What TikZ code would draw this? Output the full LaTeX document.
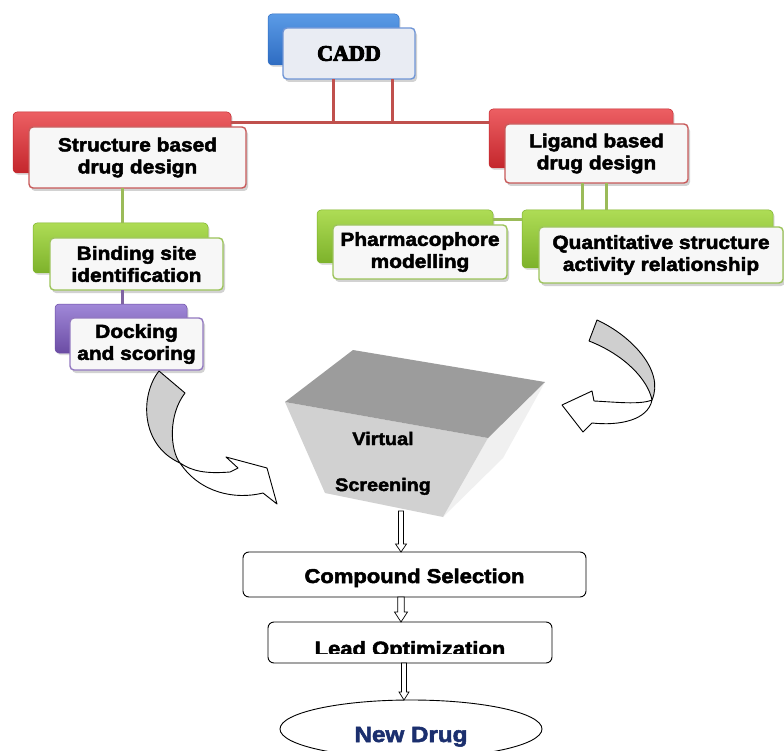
\documentclass[tikz,border=0pt]{standalone}
\usepackage{fontspec}
\newfontfamily\lab{Liberation Sans}[FakeStretch=1.1, BoldFeatures={FakeBold=2.5}]
\newfontfamily\cad{Liberation Serif}[BoldFeatures={FakeBold=4.5}]
\usetikzlibrary{shadows,shapes.geometric,calc}
\definecolor{bluetop}{HTML}{5B9BE6}\definecolor{bluebot}{HTML}{2E6CC2}\definecolor{blueb}{HTML}{6F95D6}
\definecolor{redtop}{HTML}{EC5F63}\definecolor{redbot}{HTML}{C4262C}\definecolor{redb}{HTML}{C85A5A}
\definecolor{greentop}{HTML}{AEDC55}\definecolor{greenbot}{HTML}{7DB22B}\definecolor{greenb}{HTML}{9CC45A}
\definecolor{purptop}{HTML}{A088D8}\definecolor{purpbot}{HTML}{6B4CA4}\definecolor{purpb}{HTML}{9278C0}
\definecolor{redline}{HTML}{C0504D}\definecolor{greenline}{HTML}{9BBB59}\definecolor{purpline}{HTML}{8064A2}
\definecolor{navy}{HTML}{1B2F6E}
\definecolor{caddfill}{HTML}{E9ECF3}
\tikzset{
  backbox/.style n args={3}{rounded corners=4pt, top color=#1, bottom color=#2, draw=#3,
    line width=0.5pt, inner sep=0pt, outer sep=0pt,
    drop shadow={opacity=0.25, shadow xshift=1.5pt, shadow yshift=-2pt}},
  frontbox/.style={rounded corners=4pt, fill=white!94!gray, draw=#1, line width=1.4pt,
    inner sep=0pt, outer sep=0pt, align=center,
    font=\lab\bfseries\fontsize{19}{22}\selectfont,
    drop shadow={opacity=0.35, shadow xshift=2pt, shadow yshift=-3pt}},
  conn/.style={line width=3pt, draw=#1},
  flowbox/.style={rounded corners=6pt, draw=black, line width=0.9pt, fill=white,
    inner sep=0pt, outer sep=0pt},
  hollow/.style={draw=black, fill=white, line width=0.7pt},
  curvy/.style={draw=black, line width=0.9pt, line join=round},
}
\newcommand\blockarrow[5]{%
  \draw[hollow] let \p1=(#1), \p2=(#2) in
   (\x1-#3,\y1) -- (\x1-#3,\y2+#5) -- (\x1-#4,\y2+#5) -- (\x1,\y2)
   -- (\x1+#4,\y2+#5) -- (\x1+#3,\y2+#5) -- (\x1+#3,\y1) -- cycle;}
\begin{document}
\begin{tikzpicture}[x=1pt,y=-1pt]
\fill[white] (0,0) rectangle (784,751);
\useasboundingbox (0,0) rectangle (784,751);

% ---------- back boxes ----------
\node[backbox={bluetop}{bluebot}{bluebot}, minimum width=131pt, minimum height=51pt] (cbb) at (333.5,39.5) {};
\node[backbox={redtop}{redbot}{redbot}, minimum width=218pt, minimum height=61pt] (sbb) at (122,142.5) {};
\node[backbox={redtop}{redbot}{redbot}, minimum width=184pt, minimum height=59pt] (lbb) at (581,138.5) {};
\node[backbox={greentop}{greenbot}{greenbot}, minimum width=175pt, minimum height=50pt] (bbb) at (120.5,248) {};
\node[backbox={purptop}{purpbot}{purpbot}, minimum width=132pt, minimum height=49pt] (dbb) at (121,328.5) {};
\node[backbox={greentop}{greenbot}{greenbot}, minimum width=176pt, minimum height=53pt] (pbb) at (405,236.5) {};
\node[backbox={greentop}{greenbot}{greenbot}, minimum width=251pt, minimum height=58pt] (qbb) at (647.5,239) {};

% ---------- connectors (tree) ----------
\coordinate (hl) at ([yshift=-11pt]sbb.north east);
\coordinate (hr) at ([yshift=-14pt]lbb.north west);
\draw[conn=redline] (hl) -- (hr);
\draw[conn=greenline] ([yshift=-10pt]pbb.north east) -- ([yshift=-10pt]qbb.north west);

% ---------- front boxes ----------
\node[frontbox=blueb, fill=caddfill, minimum width=132pt, minimum height=51pt,
      font=\cad\bfseries\fontsize{22}{26}\selectfont] (cf) at (349,53.5) {CADD};
\node[frontbox=redb, minimum width=217pt, minimum height=61pt] (sf) at (137.5,157.5) {Structure based\\drug design};
\node[frontbox=redb, minimum width=183pt, minimum height=59pt] (lf) at (596.5,153.5) {Ligand based\\drug design};
\node[frontbox=greenb, minimum width=173pt, minimum height=52pt] (bf) at (136.5,264) {Binding site\\identification};
\node[frontbox=purpb, minimum width=133pt, minimum height=52pt] (df) at (136.5,344) {Docking\\and scoring};
\node[frontbox=greenb, minimum width=174pt, minimum height=54pt] (pf) at (420,252) {Pharmacophore\\modelling};
\node[frontbox=greenb, minimum width=244pt, minimum height=56pt] (qf) at (661,255) {Quantitative structure\\activity relationship};

% ---------- vertical connectors ----------
\draw[conn=redline] ([xshift=-16pt]cf.south) -- ([xshift=-16pt]cf.south |- hl);
\draw[conn=redline] ([xshift=43pt]cf.south) -- ([xshift=43pt]cf.south |- hl);
\draw[conn=greenline] ([xshift=-15.5pt]sf.south) -- ([xshift=-15.5pt]sf.south |- bbb.north);
\draw[conn=purpline] ([xshift=-14.5pt]bf.south) -- ([xshift=-14.5pt]bf.south |- dbb.north);
\draw[conn=greenline] ([xshift=-14.5pt]lf.south) -- ([xshift=-14.5pt]lf.south |- qbb.north);
\draw[conn=greenline] ([xshift=9.5pt]lf.south) -- ([xshift=9.5pt]lf.south |- qbb.north);

% ---------- funnel ----------
\coordinate (fA) at (285,402);
\coordinate (fB) at (353,350);
\coordinate (fC) at (545,382);
\coordinate (fD) at (488,438);
\coordinate (fE) at (443,517);
\coordinate (fF) at (325,493);
\coordinate (fG) at (503,458);
\fill[gray!12] (fD) -- (fC) -- (fG) -- (fE) -- cycle;
\fill[gray!36] (fA) -- (fD) -- (fE) -- (fF) -- cycle;
\fill[gray!78] (fA) -- (fB) -- (fC) -- (fD) -- cycle;
\node[anchor=base, font=\lab\bfseries\fontsize{18}{22}\selectfont] (vt) at (383,445) {Virtual};
\node[anchor=base, font=\lab\bfseries\fontsize{18}{22}\selectfont] (sc) at (383,491) {Screening};
\coordinate (vsout) at (401,511);

% ---------- curved arrows ----------
\draw[curvy, fill=gray!38] (159,371) .. controls (140,395) and (140,445) .. (180,463)
   .. controls (170,450) and (168,415) .. (185,393) -- cycle;
\draw[curvy, fill=white] (180,463) .. controls (192,471) and (205,474) .. (230,472)
   -- (238,468) -- (226,457) -- (267,468) -- (277,504) -- (263,493)
   .. controls (235,500) and (200,493) .. (180,463) -- cycle;
\draw[curvy, fill=gray!38] (597,320) .. controls (630,335) and (665,370) .. (652,400)
   .. controls (648,380) and (625,355) .. (589,341) -- cycle;
\draw[curvy, fill=white] (652,400) .. controls (640,405) and (615,402) .. (594,401)
   -- (592,391) -- (562,405) -- (583,432) -- (592,423)
   .. controls (620,426) and (648,420) .. (652,400) -- cycle;

% ---------- flow ----------
\node[flowbox, minimum width=343pt, minimum height=45pt] (cs) at (414.5,574.5) {};
\node[anchor=base, font=\lab\bfseries\fontsize{20}{24}\selectfont] (cstext) at (414.5,583) {Compound Selection};
\node[flowbox, minimum width=284pt, minimum height=41pt] (lo) at (410,642.5) {};
\begin{scope}
  \clip (268,600) rectangle (552,653.5);
  \node[anchor=base, font=\lab\bfseries\fontsize{20}{24}\selectfont] (lotext) at (410,655.5) {Lead Optimization};
\end{scope}
\node[ellipse, draw=black, line width=0.9pt, fill=white, minimum width=262pt, minimum height=58pt,
      inner sep=0pt, outer sep=0pt] (nd) at (411,729) {};
\node[anchor=base, text=navy, font=\lab\bfseries\fontsize{22}{26}\selectfont] (ndtext) at (411,742) {New Drug};

\blockarrow{vsout}{cs.north -| vsout}{2.5pt}{5.5pt}{8pt}
\blockarrow{cs.south -| vsout}{lo.north -| vsout}{3.2pt}{6.5pt}{10pt}
\coordinate (lx) at (404,0);
\blockarrow{lo.south -| lx}{nd.north -| lx}{2.5pt}{5pt}{8pt}
\end{tikzpicture}
\end{document}
